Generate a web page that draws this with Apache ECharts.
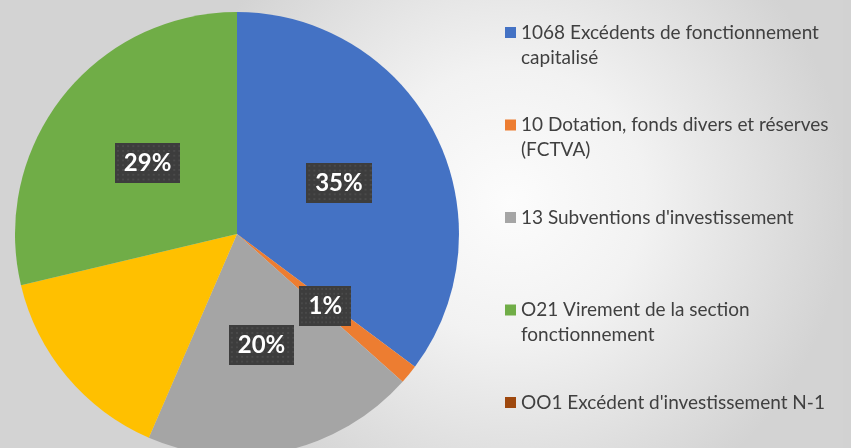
<!DOCTYPE html>
<html>
<head>
<meta charset="utf-8">
<script src="https://cdn.jsdelivr.net/npm/echarts@6/dist/echarts.min.js"></script>
<style>
html,body{margin:0;padding:0;}
#chart{width:851px;height:448px;}
</style>
</head>
<body>
<div id="chart"></div>
<script>
// slices, in drawing order (clockwise from 12 o'clock)
var names = ['1068 Excédents de fonctionnement capitalisé', '10 Dotation, fonds divers et réserves (FCTVA)', "13 Subventions d'investissement", 'Autres', 'O21 Virement de la section fonctionnement', "OO1 Excédent d'investissement N-1"];
var values = [35.2, 1.4, 19.9, 14.8, 28.7, 0];
var colors = ['#4472C4', '#ED7D31', '#A5A5A5', '#FFC000', '#70AD47', '#9E480E'];
// legend entries and how they wrap
var legendNames = [names[0], names[1], names[2], names[4], names[5]];
var legendLines = {};
legendLines[names[0]] = ['1068 Excédents de fonctionnement', 'capitalisé'];
legendLines[names[1]] = ['10 Dotation, fonds divers et réserves', '(FCTVA)'];
legendLines[names[2]] = ["13 Subventions d'investissement", ''];
legendLines[names[4]] = ['O21 Virement de la section', 'fonctionnement'];
legendLines[names[5]] = ["OO1 Excédent d'investissement N-1", ''];

// dotted dark texture for the data labels
function dotTexture() {
	var c = document.createElement('canvas');
	c.width = 64; c.height = 42;
	var g = c.getContext('2d');
	g.fillStyle = '#3d3d3d';
	g.fillRect(0, 0, 64, 42);
	g.fillStyle = '#4a4a4a';
	for (var x = 2; x < 64; x += 5) {
		for (var y = 2; y < 42; y += 5) {
			g.fillRect(x, y, 2, 2);
		}
	}
	return c;
}
var tex = dotTexture();

var data = [];
for (var i = 0; i < names.length; i++) {
	var item = {value: values[i], name: names[i], itemStyle: {color: colors[i]}};
	if (i == 3 || values[i] == 0) {
		item.label = {show: false};
	}
	data.push(item);
}

var chart = echarts.init(document.getElementById('chart'));
var option = {
	backgroundColor: {
		type: 'radial', x: 0.6, y: 0.45, r: 0.75,
		colorStops: [{offset: 0, color: '#fcfcfc'}, {offset: 0.4, color: '#f2f2f2'}, {offset: 1, color: '#d3d3d3'}]
	},
	graphic: [{
		type: 'rect', right: 0, top: 0,
		shape: {width: 8, height: 448},
		style: {fill: '#d2d2d2'}
	}],
	legend: {
		orient: 'vertical',
		left: 500,
		top: -10,
		height: 520,
		itemGap: 17.5,
		icon: 'rect',
		itemWidth: 11,
		itemHeight: 11,
		data: legendNames,
		selectedMode: false,
		formatter: function(name) {
			var l = legendLines[name];
			return '\n' + l[0] + '\n' + l[1];
		},
		textStyle: {
			fontFamily: 'Lato',
			fontSize: 19,
			color: '#404040',
			lineHeight: 25
		}
	},
	series: [{
		type: 'pie',
		center: [237, 234],
		radius: 222,
		startAngle: 90,
		clockwise: true,
		avoidLabelOverlap: false,
		itemStyle: {borderWidth: 0},
		emphasis: {disabled: true},
		label: {
			show: true,
			position: 'inside',
			formatter: function(p) {
				return Math.round(p.percent) + '%';
			},
			fontFamily: 'Lato',
			fontWeight: 'bold',
			fontSize: 24,
			lineHeight: 24,
			color: '#ffffff',
			backgroundColor: {image: tex},
			padding: [8, 9, 8, 9],
			shadowColor: 'rgba(0,0,0,0.45)',
			shadowBlur: 5,
			shadowOffsetX: 2,
			shadowOffsetY: 3
		},
		labelLine: {show: false},
		data: data
	}]
};
chart.setOption(option);
</script>
</body>
</html>
